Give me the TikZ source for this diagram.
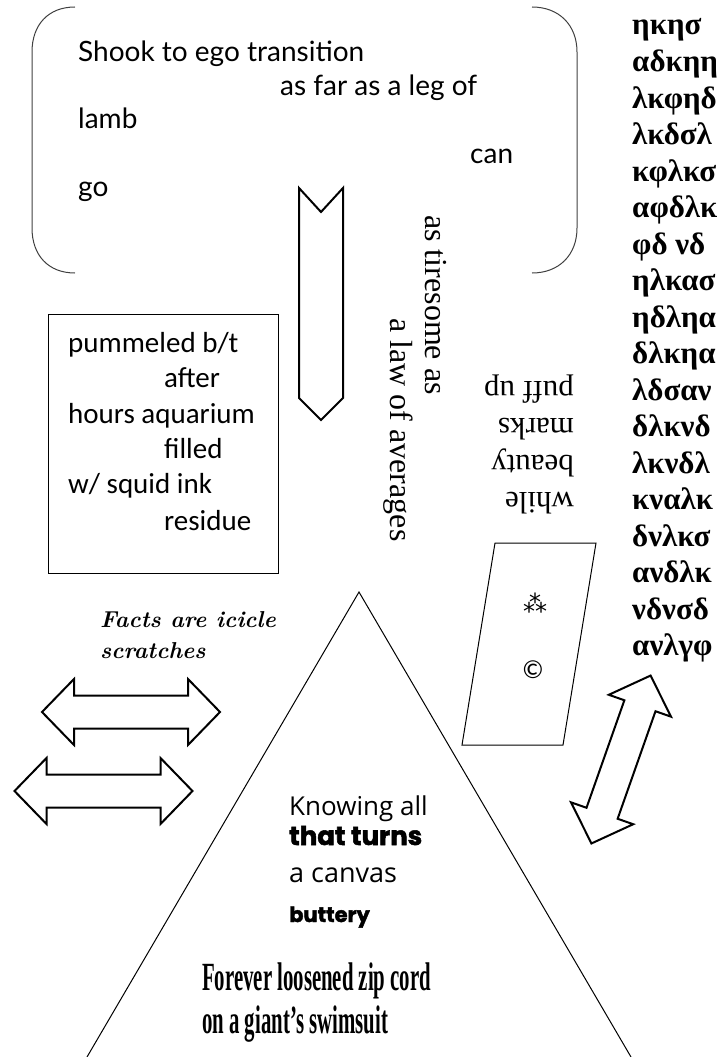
\documentclass[tikz,border=0pt]{standalone}
\usepackage{fontspec}
\usepackage{graphicx}
\newfontfamily\gillfont{Lato}
\newfontfamily\calfont{Carlito}
\newfontfamily\timesfont{Liberation Serif}
\newfontfamily\opensans{Open Sans}
\newfontfamily\chunkyfont{Poppins}[BoldFeatures={FakeBold=2}]
\newfontfamily\symfont{DejaVu Sans}
\newcommand{\fsz}[1]{\fontsize{#1}{#1}\selectfont}
\tikzset{dblarrow/.pic={
  \draw[line width=2pt] (-89,0) -- (-57,-33) -- (-57,-16.5) -- (57,-16.5) -- (57,-33)
    -- (89,0) -- (57,33) -- (57,16.5) -- (-57,16.5) -- (-57,33) -- cycle;}}

\begin{document}
\begin{tikzpicture}[x=1pt,y=-1pt,
    toptext/.style={anchor=base west,inner sep=0pt,font=\gillfont\fsz{28}},
    boxtext/.style={anchor=base west,inner sep=0pt,font=\calfont\fsz{29}},
    greektext/.style={anchor=base west,inner sep=0pt,font=\timesfont\bfseries\fsz{31}},
    trinode/.style={anchor=base west,inner sep=0pt},
    thinline/.style={line width=1pt}]
    \useasboundingbox (0,0) rectangle (721,1057);

    % rounded bracket frame on top
    \draw[thinline,black!75] (75,7) .. controls (48,7) and (32,25) .. (32,52) -- (32,228)
        .. controls (32,255) and (48,273) .. (75,273);
    \draw[thinline,black!75] (532,7) .. controls (559,7) and (577,25) .. (577,52) -- (577,228)
        .. controls (577,255) and (559,273) .. (532,273);

    \node[toptext] (shook) at (78,62) {Shook to ego transition};
    \node[toptext] (asfar) at (280,95) {as far as a leg of};
    \node[toptext] (lamb) at (78,128) {lamb};
    \node[toptext] (can) at (470,163) {can};
    \node[toptext] (go) at (78,196) {go};

    % chevron
    \draw[line width=2pt] (299,188) -- (321,212) -- (343,188) -- (343,398) -- (321,420) -- (299,398) -- cycle;

    \node[font=\timesfont\fsz{32},rotate=-90,inner sep=0pt] (tiresome) at (436,305) {as tiresome as};
    \node[font=\timesfont\fsz{32},rotate=-90,inner sep=0pt] (averages) at (398,430) {a law of averages};

    \node[font=\timesfont\fontsize{31}{37}\selectfont,rotate=180,align=left,inner sep=0pt] (puff) at (529,444)
        {while\\beauty\\marks\\puff up};

    % greek column
    \foreach \w [count=\i from 0] in {ηκησ,αδκηη,λκφηδ,λκδσλ,κφλκσ,αφδλκ,φδ νδ,ηλκασ,ηδληα,
        δλκηα,λδσαν,δλκνδ,λκνδλ,κναλκ,δνλκσ,ανδλκ,νδνσδ,ανλγφ}
        \node[greektext] (g\i) at (632,35+36.5*\i) {\w};

    % box
    \draw[thinline] (48,314) rectangle (278,573);
    \node[boxtext] (pum) at (68,352) {pummeled b/t};
    \node[boxtext] (after) at (164,387) {after};
    \node[boxtext] (hours) at (68,423) {hours aquarium};
    \node[boxtext] (filled) at (164,458) {filled};
    \node[boxtext] (squid) at (68,493) {w/ squid ink};
    \node[boxtext] (residue) at (164,530) {residue};

    \node[trinode,font=\bfseries\itshape\fsz{23}] (facts) at (100,627) {Facts are icicle};
    \node[trinode,font=\bfseries\itshape\fsz{23}] (scratch) at (100,658) {scratches};

    % parallelogram
    \draw[thinline] (495,543) -- (596,543) -- (563,745) -- (462,745) -- cycle;
    \node[font=\symfont\fsz{24}] (stars) at (535,603) {⁂};
    \node[font=\calfont\fsz{26}] (copy) at (533,670) {©};

    % double arrows
    \pic at (131,712) {dblarrow};
    \pic at (103.5,791) {dblarrow};
    \pic[rotate=70.6] at (621,759.5) {dblarrow};

    % triangle
    \draw[thinline] (87,1057) -- (359,592) -- (631,1057);
    \node[trinode,font=\opensans\fsz{26}] (knowing) at (289,815) {Knowing all};
    \node[trinode,font=\chunkyfont\bfseries\fsz{26}] (turns) at (289,845) {that turns};
    \node[trinode,font=\opensans\fsz{27}] (canvas) at (289,882) {a canvas};
    \node[trinode,font=\chunkyfont\bfseries\fsz{21}] (buttery) at (289,922) {buttery};
    \node[trinode,font=\timesfont\bfseries\fsz{40}] (forever) at (202,990) {\scalebox{0.52}[1]{Forever loosened zip cord}};
    \node[trinode,font=\timesfont\bfseries\fsz{40}] (giant) at (202,1033) {\scalebox{0.52}[1]{on a giant’s swimsuit}};
\end{tikzpicture}
\end{document}
